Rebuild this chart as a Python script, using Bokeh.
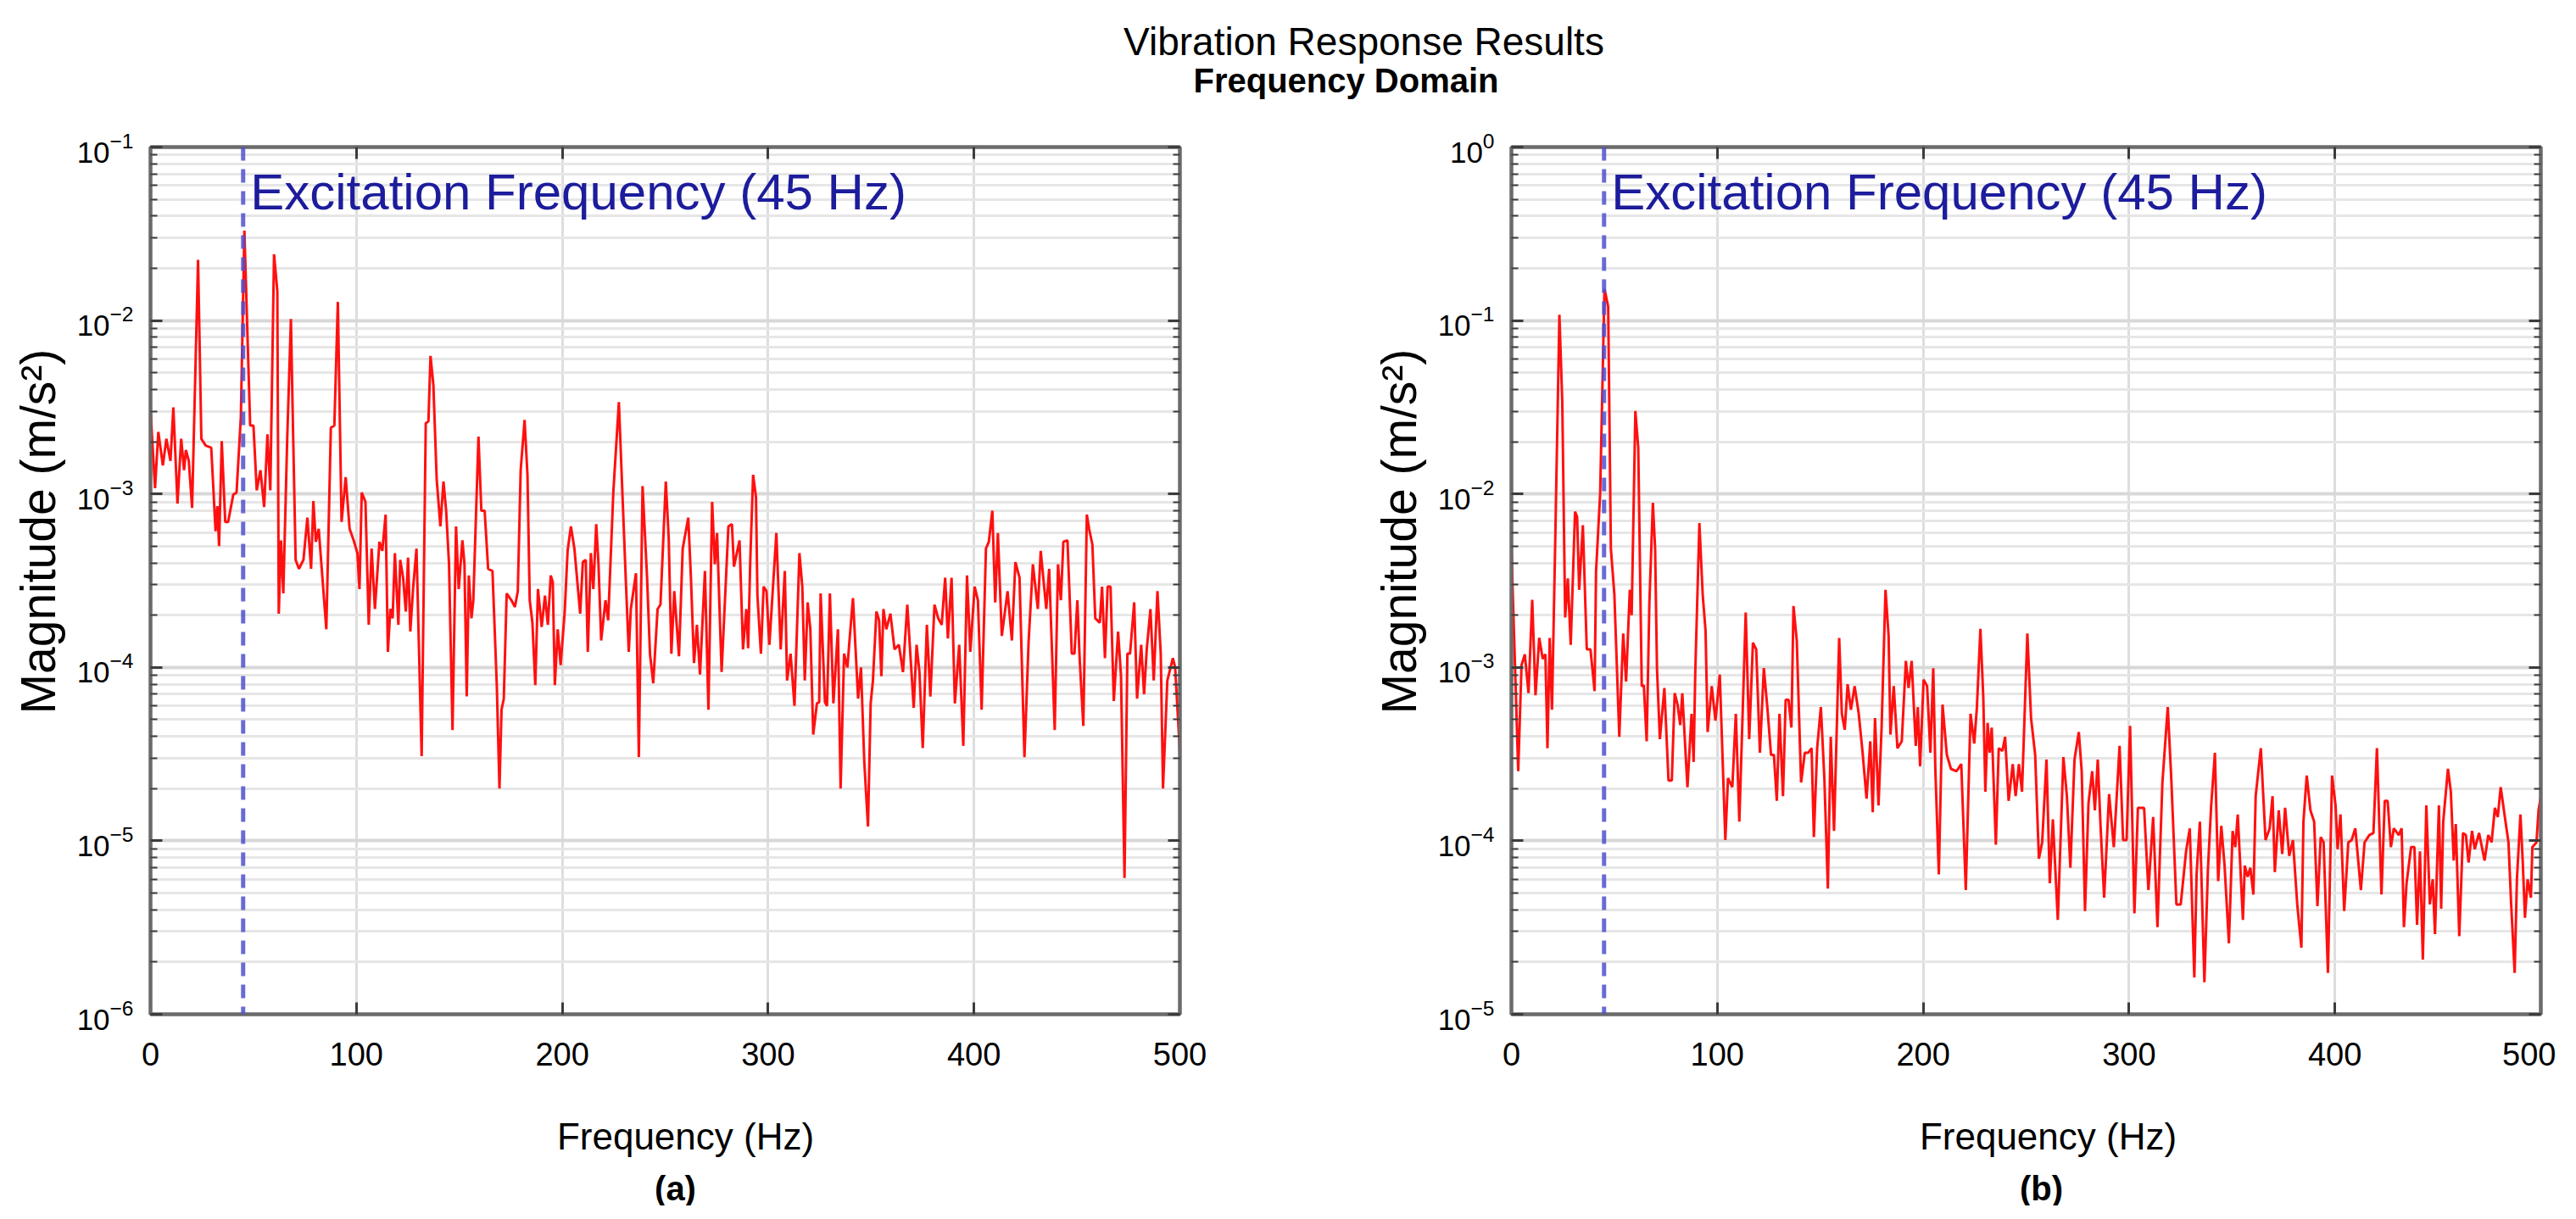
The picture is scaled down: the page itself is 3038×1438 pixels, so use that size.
from bokeh.plotting import figure
from bokeh.models import (Range1d, FixedTicker, LogTickFormatter, LogAxis, LinearAxis,
                          PrintfTickFormatter, Span, Label, Title)
from bokeh.layouts import column, row
from bokeh.embed import file_html
from bokeh.resources import INLINE

TITLE = "Vibration Response Results"
SUBTITLE = "Frequency Domain"
X_LABEL = "Frequency (Hz)"
Y_LABEL = "Magnitude (m/s\u00b2)"
EXCITATION_HZ = 45
EXCITATION_TEXT = "Excitation Frequency (45 Hz)"
X_TICKS = [0, 100, 200, 300, 400, 500]

# panel (a): frequency (Hz) and magnitude (m/s^2)
freq_a = [0, 2.2, 3.8, 6.0, 7.7, 9.7, 11.1, 13.1, 14.9, 16.3, 17.2, 18.6, 20.2, 23.1, 24.7,
          26.8, 29.5, 31.6, 32.5, 33.3, 34.6, 36.3, 37.7, 40.2, 41.8, 43.9, 45.6, 48.4, 50.0,
          51.6, 53.4, 55.2, 56.8, 58.2, 60.0, 61.6, 62.3, 63.4, 64.5, 66.4, 68.2, 69.1, 70.5,
          72.1, 74.3, 76.2, 78.0, 79.1, 80.3, 81.7, 83.0, 85.4, 87.6, 89.3, 91.0, 92.8, 94.8,
          96.7, 98.9, 100.5, 101.5, 102.6, 104.4, 106.0, 107.4, 109.0, 111.2, 112.6, 114.2,
          115.3, 116.5, 117.6, 118.7, 120.4, 121.3, 122.7, 124.0, 125.1, 126.2, 127.6, 129.2,
          131.7, 133.7, 135.0, 136.0, 137.4, 139.0, 140.8, 142.3, 143.6, 145.0, 146.7, 148.4,
          149.7, 151.5, 152.5, 153.6, 154.6, 155.9, 156.8, 159.3, 160.7, 162.3, 164.0, 166.1,
          168.2, 169.5, 170.5, 171.6, 173.0, 175.3, 177.0, 178.4, 179.8, 181.7, 183.1, 184.2,
          185.5, 186.9, 188.2, 190.0, 191.6, 193.0, 194.4, 195.4, 196.4, 197.8, 199.2, 201.2,
          202.6, 204.2, 205.9, 208.7, 210.0, 211.4, 212.4, 213.9, 215.1, 216.5, 217.6, 218.9,
          221.0, 222.3, 224.8, 227.5, 229.2, 231.0, 232.3, 233.3, 235.8, 237.2, 239.0, 241.2,
          242.6, 244.2, 246.3, 247.7, 250.3, 251.7, 253.0, 254.4, 256.7, 258.5, 261.2, 262.5,
          264.0, 265.4, 266.9, 269.3, 271.0, 272.8, 274.1, 275.2, 277.4, 280.7, 282.4, 283.4,
          286.1, 287.8, 289.4, 290.3, 291.3, 292.7, 294.1, 294.8, 296.5, 297.8, 299.2, 300.6,
          304.0, 306.1, 308.1, 309.2, 310.9, 312.8, 315.2, 316.6, 317.8, 319.2, 320.5, 321.9,
          323.7, 324.8, 325.5, 327.6, 328.6, 330.0, 331.7, 333.9, 335.2, 336.9, 338.5, 339.6,
          341.2, 343.7, 345.1, 346.7, 348.5, 349.8, 350.9, 352.6, 353.9, 355.0, 356.0, 357.4,
          359.4, 361.4, 363.5, 365.5, 367.6, 369.2, 370.7, 372.1, 373.5, 375.1, 377.1, 378.8,
          380.8, 382.6, 384.3, 386.0, 387.3, 389.1, 390.7, 392.8, 394.8, 396.6, 398.2, 400.3,
          401.9, 403.7, 405.8, 407.2, 408.9, 410.3, 411.6, 413.5, 416.3, 418.4, 420.1, 422.1,
          424.5, 426.5, 428.6, 431.0, 432.4, 435.1, 436.5, 439.2, 440.8, 442.2, 443.4, 445.4,
          447.5, 448.8, 450.2, 451.3, 453.1, 454.8, 455.9, 457.5, 458.9, 461.1, 462.2, 463.6,
          464.9, 466.3, 467.9, 470.0, 471.4, 473.1, 474.5, 475.8, 477.8, 479.2, 481.2, 482.6,
          483.9, 485.7, 487.3, 489.1, 490.7, 491.8, 493.9, 496.6, 497.7, 500.0]
mag_a = [3.06e-3, 1.08e-3, 2.28e-3, 1.46e-3, 2.08e-3, 1.55e-3, 3.16e-3, 8.8e-4, 2.08e-3, 1.37e-3,
         1.79e-3, 1.55e-3, 8.3e-4, 2.24e-2, 2.08e-3, 1.90e-3, 1.85e-3, 6.1e-4, 8.5e-4, 5.0e-4,
         2.02e-3, 6.9e-4, 6.9e-4, 9.9e-4, 1.02e-3, 2.8e-3, 3.3e-2, 2.48e-3, 2.48e-3, 1.05e-3,
         1.37e-3, 8.4e-4, 2.21e-3, 1.05e-3, 2.41e-2, 1.48e-2, 2.04e-4, 5.4e-4, 2.67e-4, 2.08e-3,
         1.02e-2, 2.8e-3, 4.17e-4, 3.7e-4, 4.17e-4, 7.3e-4, 3.7e-4, 9.1e-4, 5.3e-4, 6.3e-4,
         3.93e-4, 1.66e-4, 2.41e-3, 2.48e-3, 1.28e-2, 6.9e-4, 1.25e-3, 6.3e-4, 5.3e-4, 4.56e-4,
         2.83e-4, 1.02e-3, 9.0e-4, 1.76e-4, 4.84e-4, 2.17e-4, 5.3e-4, 4.7e-4, 7.6e-4, 1.23e-4,
         2.17e-4, 1.92e-4, 4.56e-4, 1.76e-4, 4.17e-4, 3.29e-4, 2.1e-4, 4.3e-4, 1.61e-4, 2.92e-4,
         4.84e-4, 3.08e-5, 2.56e-3, 2.62e-3, 6.25e-3, 4.25e-3, 1.22e-3, 6.5e-4, 1.18e-3, 8.0e-4,
         3.93e-4, 4.35e-5, 6.5e-4, 2.83e-4, 5.4e-4, 3.93e-4, 6.8e-5, 3.39e-4, 1.92e-4, 2.44e-4,
         2.14e-3, 8.0e-4, 8.0e-4, 3.7e-4, 3.6e-4, 7.9e-5, 2.0e-5, 5.7e-5, 6.6e-5, 2.67e-4,
         2.44e-4, 2.23e-4, 2.75e-4, 1.37e-3, 2.67e-3, 1.29e-3, 2.44e-4, 1.81e-4, 7.9e-5, 2.83e-4,
         1.71e-4, 2.59e-4, 1.76e-4, 3.39e-4, 3.1e-4, 7.9e-5, 1.66e-4, 1.03e-4, 2.1e-4, 4.7e-4,
         6.5e-4, 4.84e-4, 2.04e-4, 4.05e-4, 4.17e-4, 1.23e-4, 4.56e-4, 2.83e-4, 6.7e-4, 3.93e-4,
         1.43e-4, 2.44e-4, 1.87e-4, 1.02e-3, 3.39e-3, 1.02e-3, 2.92e-4, 1.23e-4, 2.17e-4, 3.49e-4,
         3.04e-5, 1.11e-3, 3.29e-4, 1.2e-4, 8.1e-5, 2.17e-4, 2.3e-4, 1.18e-3, 5.6e-4, 1.2e-4,
         2.75e-4, 1.16e-4, 4.84e-4, 7.3e-4, 3.29e-4, 1.06e-4, 1.76e-4, 9.1e-5, 3.6e-4, 5.7e-5,
         9.0e-4, 3.93e-4, 5.96e-4, 9.4e-5, 6.5e-4, 6.7e-4, 3.81e-4, 5.4e-4, 1.27e-4, 2.17e-4,
         1.29e-4, 4.05e-4, 1.29e-3, 9.6e-4, 2.59e-4, 1.2e-4, 2.92e-4, 2.75e-4, 1.35e-4, 5.96e-4,
         1.27e-4, 3.6e-4, 8.4e-5, 1.2e-4, 6.0e-5, 4.56e-4, 2.92e-4, 8.4e-5, 2.37e-4, 1.66e-4,
         4.1e-5, 6.2e-5, 6.3e-5, 2.67e-4, 6.3e-5, 6.0e-5, 2.67e-4, 6.2e-5, 1.66e-4, 2.0e-5,
         1.2e-4, 1.0e-4, 1.47e-4, 2.51e-4, 6.6e-5, 1.0e-4, 2.86e-5, 1.21e-5, 6.2e-5, 8.4e-5,
         2.1e-4, 1.87e-4, 8.9e-5, 2.17e-4, 1.66e-4, 2.04e-4, 1.27e-4, 1.35e-4, 9.4e-5, 2.3e-4,
         1.13e-4, 5.85e-5, 1.35e-4, 9.4e-5, 3.43e-5, 1.76e-4, 6.8e-5, 2.3e-4, 1.92e-4, 1.76e-4,
         3.29e-4, 1.47e-4, 3.29e-4, 6.2e-5, 1.35e-4, 3.53e-5, 3.39e-4, 1.23e-4, 2.92e-4, 2.44e-4,
         5.7e-5, 4.84e-4, 5.3e-4, 8.0e-4, 2.37e-4, 5.96e-4, 1.52e-4, 2.75e-4, 1.43e-4, 4.05e-4,
         3.29e-4, 3.04e-5, 1.39e-4, 3.93e-4, 2.17e-4, 4.7e-4, 2.17e-4, 3.7e-4, 4.35e-5, 3.93e-4,
         2.44e-4, 5.3e-4, 5.4e-4, 1.2e-4, 1.2e-4, 2.44e-4, 1.13e-4, 4.6e-5, 7.6e-4, 6.3e-4,
         5.1e-4, 1.92e-4, 1.81e-4, 2.92e-4, 1.13e-4, 2.92e-4, 2.92e-4, 6.4e-5, 1.61e-4, 8.9e-5,
         6.1e-6, 1.2e-4, 1.2e-4, 2.37e-4, 6.6e-5, 1.35e-4, 7.0e-5, 1.27e-4, 2.17e-4, 8.4e-5,
         2.75e-4, 1.2e-4, 2.0e-5, 8.4e-5, 1.13e-4, 1.0e-4, 3.23e-5]

# panel (b)
freq_b = [0, 3.3, 4.9, 6.5, 8.3, 10.1, 11.7, 13.5, 15.2, 16.5, 17.5, 18.6, 19.7, 21.3, 23.3,
          24.7, 26.1, 27.4, 28.8, 30.9, 31.9, 32.9, 34.7, 36.6, 38.4, 40.4, 41.1, 43.1, 45.2,
          47.0, 48.3, 50.0, 52.4, 54.3, 55.7, 57.5, 58.4, 60.2, 61.6, 63.3, 64.3, 65.7, 67.0,
          68.7, 69.8, 70.7, 72.1, 74.3, 76.3, 77.9, 79.3, 80.7, 82.0, 83.0, 85.5, 87.5, 88.5,
          89.3, 91.3, 92.9, 94.3, 95.3, 97.3, 99.1, 101.2, 103.9, 105.2, 107.3, 109.0, 110.7,
          113.8, 115.5, 117.3, 118.9, 120.7, 122.6, 124.4, 126.1, 127.5, 128.9, 130.2, 131.9,
          133.2, 134.6, 136.0, 137.0, 138.6, 140.7, 142.5, 144.2, 145.8, 146.9, 148.5, 150.3,
          152.0, 153.7, 155.1, 156.7, 159.2, 160.5, 161.9, 163.3, 164.9, 166.7, 168.7, 170.5,
          172.5, 174.3, 175.5, 176.6, 178.3, 179.8, 181.7, 183.2, 184.1, 185.7, 187.5, 189.6,
          191.6, 192.9, 194.4, 196.4, 197.4, 198.5, 200.2, 201.9, 203.5, 204.9, 205.9, 207.6,
          209.4, 211.5, 213.5, 216.2, 218.5, 220.7, 223.0, 224.8, 226.1, 227.8, 229.2, 230.2,
          231.3, 232.3, 233.3, 235.3, 236.7, 238.5, 239.8, 241.5, 243.5, 244.9, 246.5, 248.0,
          250.6, 252.4, 254.4, 256.2, 257.8, 259.9, 261.5, 263.0, 265.4, 268.1, 269.8, 271.5,
          273.5, 275.6, 277.0, 278.6, 280.3, 282.1, 283.4, 284.8, 286.2, 287.9, 290.3, 292.6,
          295.4, 297.1, 298.8, 300.5, 302.6, 304.3, 307.3, 309.4, 311.7, 313.8, 316.2, 318.8,
          320.5, 323.0, 325.1, 327.7, 329.5, 331.7, 332.8, 334.4, 336.6, 338.3, 339.9, 341.7,
          343.3, 344.8, 346.4, 348.5, 350.3, 351.6, 352.8, 355.3, 356.2, 357.6, 358.9, 360.4,
          361.5, 364.0, 366.3, 368.3, 369.7, 370.8, 372.7, 374.4, 375.8, 377.8, 379.6, 381.7,
          383.7, 384.7, 386.3, 388.1, 389.9, 391.5, 393.1, 394.5, 396.6, 398.6, 400.3, 401.3,
          402.7, 404.5, 406.5, 408.1, 409.9, 412.6, 414.4, 416.7, 418.7, 420.4, 422.6, 424.2,
          425.6, 427.2, 428.6, 431.0, 432.4, 433.5, 434.8, 437.0, 438.6, 439.9, 441.3, 442.7,
          444.4, 446.1, 447.5, 448.6, 450.5, 451.6, 452.6, 454.9, 456.3, 457.7, 458.7, 460.4,
          462.2, 463.6, 464.9, 466.6, 467.9, 470.0, 472.7, 474.5, 476.1, 477.7, 479.1, 480.5,
          482.7, 484.3, 485.6, 487.3, 488.4, 490.1, 491.2, 492.3, 493.6, 495.2, 495.9, 497.9,
          498.9, 500.0]
mag_b = [4.84e-3, 2.52e-4, 1.03e-3, 1.19e-3, 7.1e-4, 2.45e-3, 6.9e-4, 1.48e-3, 1.12e-3, 1.19e-3,
         3.42e-4, 1.48e-3, 5.7e-4, 5.5e-3, 1.08e-1, 3.4e-2, 1.94e-3, 3.26e-3, 1.35e-3, 7.9e-3,
         7.4e-3, 2.8e-3, 6.6e-3, 1.27e-3, 1.27e-3, 7.3e-4, 3.57e-3, 1.01e-2, 1.52e-1, 1.2e-1,
         4.84e-3, 2.64e-3, 3.98e-4, 1.57e-3, 8.3e-4, 2.8e-3, 2.0e-3, 3.01e-2, 1.85e-2, 7.8e-4,
         7.9e-4, 3.75e-4, 2.33e-3, 8.9e-3, 4.84e-3, 9.9e-4, 3.86e-4, 7.6e-4, 2.23e-4, 2.23e-4,
         7.1e-4, 6.1e-4, 4.65e-4, 7.1e-4, 2.04e-4, 5.4e-4, 2.85e-4, 9.4e-4, 6.8e-3, 2.64e-3,
         1.62e-3, 4.24e-4, 7.8e-4, 4.93e-4, 9.1e-4, 1.01e-4, 2.3e-4, 2.04e-4, 5.4e-4, 1.29e-4,
         2.07e-3, 3.86e-4, 1.39e-3, 1.27e-3, 3.22e-4, 9.9e-4, 5.7e-4, 3.13e-4, 3.13e-4, 1.7e-4,
         5.4e-4, 1.81e-4, 6.5e-4, 6.5e-4, 4.5e-4, 2.26e-3, 1.43e-3, 2.17e-4, 3.22e-4, 3.22e-4,
         3.42e-4, 1.05e-4, 3.42e-4, 5.9e-4, 2.3e-4, 5.3e-5, 3.98e-4, 1.14e-4, 1.48e-3, 5.4e-4,
         4.37e-4, 8.0e-4, 5.7e-4, 7.8e-4, 5.4e-4, 3.3e-4, 1.75e-4, 3.75e-4, 1.46e-4, 5.1e-4,
         1.6e-4, 4.5e-4, 2.8e-3, 1.52e-3, 4.1e-4, 7.8e-4, 3.42e-4, 3.75e-4, 1.09e-3, 7.6e-4,
         1.09e-3, 3.53e-4, 5.9e-4, 2.69e-4, 8.5e-4, 7.8e-4, 3.22e-4, 9.9e-4, 2.6e-4, 6.4e-5,
         6.1e-4, 3.13e-4, 2.6e-4, 2.52e-4, 2.77e-4, 5.2e-5, 5.4e-4, 3.64e-4, 5.9e-4, 1.67e-3,
         6.7e-4, 1.92e-4, 4.79e-4, 3.22e-4, 4.5e-4, 9.5e-5, 3.42e-4, 3.3e-4, 3.98e-4, 1.7e-4,
         2.77e-4, 1.81e-4, 2.77e-4, 1.92e-4, 1.57e-3, 5.1e-4, 3.13e-4, 7.9e-5, 9.8e-5, 2.94e-4,
         5.7e-5, 1.33e-4, 3.5e-5, 3.04e-4, 1.81e-4, 7.0e-5, 2.94e-4, 4.24e-4, 2.52e-4, 3.94e-5,
         1.65e-4, 2.52e-4, 1.5e-4, 2.94e-4, 1.18e-4, 4.7e-5, 1.86e-4, 9.2e-5, 3.53e-4, 1.01e-4,
         1.01e-4, 4.6e-4, 3.82e-5, 1.55e-4, 1.55e-4, 5.2e-5, 1.37e-4, 3.18e-5, 2.17e-4, 5.9e-4,
         2.3e-4, 4.3e-5, 4.3e-5, 8.7e-5, 1.18e-4, 1.63e-5, 6.4e-5, 1.29e-4, 1.53e-5, 6.8e-5,
         1.6e-4, 3.22e-4, 5.85e-5, 1.22e-4, 7.2e-5, 2.57e-5, 1.14e-4, 9.2e-5, 1.42e-4, 3.5e-5,
         7.2e-5, 6.2e-5, 7.0e-5, 4.9e-5, 1.81e-4, 3.42e-4, 1.01e-4, 1.18e-4, 1.81e-4, 6.6e-5,
         1.5e-4, 8.4e-5, 1.55e-4, 8.2e-5, 1.01e-4, 4.3e-5, 2.42e-5, 1.29e-4, 2.38e-4, 1.5e-4,
         1.29e-4, 4.2e-5, 1.05e-4, 9.8e-5, 1.73e-5, 2.38e-4, 1.6e-4, 8.95e-5, 1.42e-4, 3.94e-5,
         9.8e-5, 1.01e-4, 1.18e-4, 5.2e-5, 9.8e-5, 1.08e-4, 1.11e-4, 3.42e-4, 4.9e-5, 1.7e-4,
         1.7e-4, 9.2e-5, 1.18e-4, 1.08e-4, 1.18e-4, 3.18e-5, 5.7e-5, 9.2e-5, 9.2e-5, 3.28e-5,
         8.7e-5, 2.07e-5, 1.6e-4, 4.3e-5, 6.0e-5, 2.9e-5, 1.6e-4, 4.06e-5, 1.29e-4, 2.6e-4,
         1.92e-4, 7.7e-5, 1.25e-4, 2.82e-5, 1.11e-4, 1.08e-4, 7.5e-5, 1.14e-4, 8.95e-5, 1.11e-4,
         7.7e-5, 1.08e-4, 9.8e-5, 1.55e-4, 1.37e-4, 2.04e-4, 1.33e-4, 9.8e-5, 4.3e-5, 1.73e-5,
         6.0e-5, 1.42e-4, 7.7e-5, 3.6e-5, 6.0e-5, 4.7e-5, 9.2e-5, 9.8e-5, 1.5e-4, 1.81e-4]

FONT = "Liberation Sans"
FRAME = "#6b6b6b"
TICK = "#3c3c3c"


def bare(width, height):
    # empty strip used only to hold text
    f = figure(width=width, height=height, x_range=Range1d(0, 1), y_range=Range1d(0, 1),
               output_backend="svg", toolbar_location=None, min_border=0,
               x_axis_location=None, y_axis_location=None)
    f.grid.visible = False
    f.outline_line_color = None
    return f


def panel(freq, mag, decades, width, border_right):
    lo, hi = 10.0 ** decades[0], 10.0 ** decades[-1]
    p = figure(width=width, height=1162, x_range=Range1d(0, 500), y_range=Range1d(lo, hi),
               y_axis_type="log", output_backend="svg", toolbar_location=None,
               min_border_left=170, min_border_right=border_right,
               min_border_top=53, min_border_bottom=86)

    yticker = FixedTicker(ticks=[10.0 ** e for e in decades],
                          minor_ticks=[m * 10.0 ** e for e in decades[:-1] for m in range(2, 10)])
    xticker = FixedTicker(ticks=X_TICKS, minor_ticks=[])

    left, bottom = p.left[0], p.below[0]
    left.ticker = yticker
    left.formatter = LogTickFormatter()
    bottom.ticker = xticker
    p.xgrid.ticker = xticker
    p.ygrid.ticker = yticker

    for ax in (left, bottom):
        ax.major_label_text_font = FONT
        ax.major_label_text_color = "black"
    left.major_label_text_font_size = "35px"
    left.major_label_standoff = 20
    bottom.major_label_text_font_size = "38px"
    bottom.major_label_standoff = 33

    # tick marks on the top and right edges too
    p.add_layout(LinearAxis(ticker=xticker, formatter=PrintfTickFormatter(format="")), "above")
    p.add_layout(LogAxis(ticker=yticker, formatter=PrintfTickFormatter(format="")), "right")

    for ax in p.axis:
        ax.axis_line_color = FRAME
        ax.axis_line_width = 4
        ax.major_tick_line_color = TICK
        ax.major_tick_line_width = 3
        ax.major_tick_in = 14
        ax.major_tick_out = 0
        ax.minor_tick_line_color = TICK
        ax.minor_tick_line_width = 2
        ax.minor_tick_in = 8
        ax.minor_tick_out = 0

    # y title sits a little above the frame centre in the source figure
    p.add_layout(Title(text=Y_LABEL, align="left", offset=354, standoff=21, text_font=FONT,
                       text_font_size="57px", text_font_style="normal", text_color="black"), "left")

    p.outline_line_color = FRAME
    p.outline_line_width = 4
    p.xgrid.grid_line_color = "#dedede"
    p.xgrid.grid_line_width = 3
    p.ygrid.grid_line_color = "#d8d8d8"
    p.ygrid.grid_line_width = 4
    p.ygrid.minor_grid_line_color = "#e6e6e6"
    p.ygrid.minor_grid_line_width = 3

    p.line(freq, mag, line_color="#ff1010", line_width=3)

    p.add_layout(Span(location=EXCITATION_HZ, dimension="height", line_color="#5050cc",
                      line_width=5, line_dash="16 10", line_alpha=0.85))
    p.add_layout(Label(x=48.5, y=10.0 ** (decades[-1] - 0.259), text=EXCITATION_TEXT,
                       text_font=FONT, text_font_size="60px", text_color="#1c1c9c",
                       text_baseline="alphabetic"))
    return p


def foot(width, tag, x_label_at, tag_at):
    f = bare(width, 140)
    f.add_layout(Label(x=x_label_at, y=82, x_units="screen", y_units="screen", text=X_LABEL,
                       text_font=FONT, text_font_size="44px", text_align="center",
                       text_baseline="alphabetic", text_color="black"))
    f.add_layout(Label(x=tag_at, y=21, x_units="screen", y_units="screen", text=tag,
                       text_font=FONT, text_font_size="40px", text_font_style="bold",
                       text_align="center", text_baseline="alphabetic", text_color="black"))
    return f


head = bare(3022, 120)
head.add_layout(Label(x=1608, y=72, x_units="screen", y_units="screen", text=TITLE,
                      text_font=FONT, text_font_size="46px", text_align="center",
                      text_baseline="alphabetic", text_color="black"))
head.add_layout(Label(x=1587, y=26, x_units="screen", y_units="screen", text=SUBTITLE,
                      text_font=FONT, text_font_size="40px", text_font_style="bold",
                      text_align="center", text_baseline="alphabetic", text_color="black"))

fig_a = panel(freq_a, mag_a, [-6, -5, -4, -3, -2, -1], 1605, 214)
fig_b = panel(freq_b, mag_b, [-5, -4, -3, -2, -1, 0], 1409, 18)
foot_a = foot(1605, "(a)", 808, 796)
foot_b = foot(1409, "(b)", 810, 802)

page = column(head, row(fig_a, fig_b), row(foot_a, foot_b))
open("out.html", "w").write(file_html(page, INLINE))
